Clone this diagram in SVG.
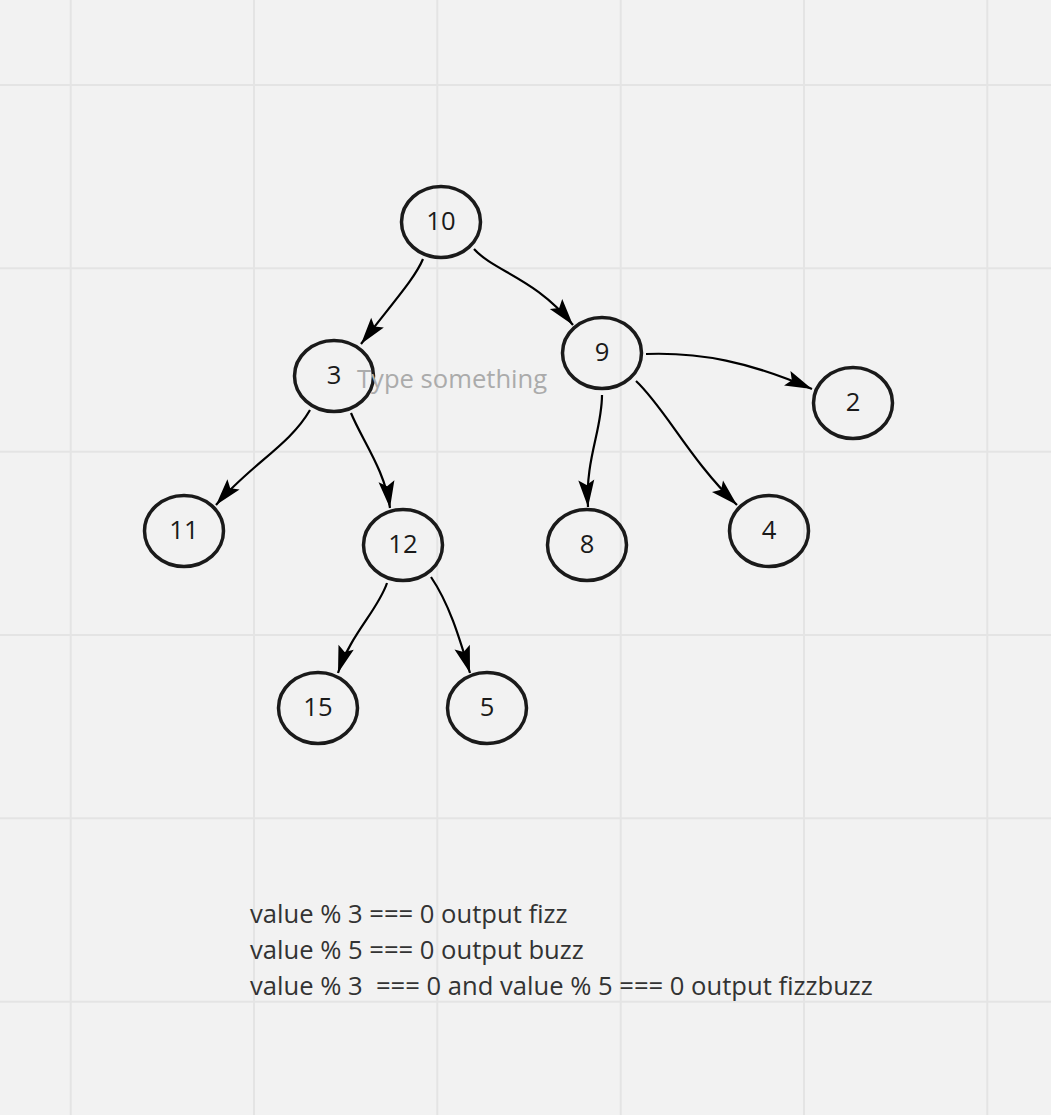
<svg xmlns="http://www.w3.org/2000/svg" width="1051" height="1115" viewBox="0 0 1051 1115">
<style>
.grid line{stroke:#e4e4e4;stroke-width:2}
.node ellipse{fill:none;stroke:#1a1a1a;stroke-width:3.5}
.node text{font-family:"Open Sans","DejaVu Sans",sans-serif;font-size:25.6px;fill:#1a1a1a;text-anchor:middle}
.edge{fill:none;stroke:#000;stroke-width:2.2;marker-end:url(#arr)}
.note{font-family:"Open Sans","DejaVu Sans",sans-serif;font-size:25.6px;fill:#333;white-space:pre}
</style>
<defs>
<marker id="arr" markerUnits="userSpaceOnUse" markerWidth="30" markerHeight="20" viewBox="-28 -10 30 20" refX="0" refY="0" orient="auto">
<path d="M0,0 L-27,-8 L-22,0 L-27,8 Z" fill="#000"/>
</marker>
</defs>
<rect width="1051" height="1115" fill="#f2f2f2"/>
<g class="grid">
<line x1="70.7" y1="0" x2="70.7" y2="1115"/>
<line x1="254" y1="0" x2="254" y2="1115"/>
<line x1="437.3" y1="0" x2="437.3" y2="1115"/>
<line x1="620.7" y1="0" x2="620.7" y2="1115"/>
<line x1="804" y1="0" x2="804" y2="1115"/>
<line x1="987.3" y1="0" x2="987.3" y2="1115"/>
<line x1="0" y1="85" x2="1051" y2="85"/>
<line x1="0" y1="268.3" x2="1051" y2="268.3"/>
<line x1="0" y1="451.7" x2="1051" y2="451.7"/>
<line x1="0" y1="635" x2="1051" y2="635"/>
<line x1="0" y1="818.3" x2="1051" y2="818.3"/>
<line x1="0" y1="1001.7" x2="1051" y2="1001.7"/>
</g>
<g id="connectors">
<path class="edge" d="M423,259 C415,278 395,300 361,344"/>
<path class="edge" d="M474,249 C495,272 535,278 573,325"/>
<path class="edge" d="M646,354 C700,352 750,362 812,389"/>
<path class="edge" d="M602,395 C602,430 585,460 588,507"/>
<path class="edge" d="M636,381 C665,408 690,460 737,505"/>
<path class="edge" d="M310,410 C290,445 250,465 216,505"/>
<path class="edge" d="M351,413 C362,440 385,470 390,508"/>
<path class="edge" d="M387,583 C378,610 350,635 338,673"/>
<path class="edge" d="M431,577 C450,605 460,640 470,673"/>
</g>
<g id="n10" class="node"><ellipse cx="441" cy="222" rx="39.5" ry="35.5"/><text x="441" y="229.5">10</text></g>
<g id="n3" class="node"><ellipse cx="334" cy="376" rx="39.5" ry="35.5"/><text x="334" y="383.5">3</text></g>
<g id="n9" class="node"><ellipse cx="602" cy="353" rx="39.5" ry="35.5"/><text x="602" y="360.5">9</text></g>
<g id="n2" class="node"><ellipse cx="853" cy="403" rx="39.5" ry="35.5"/><text x="853" y="410.5">2</text></g>
<g id="n11" class="node"><ellipse cx="184" cy="531" rx="39.5" ry="35.5"/><text x="184" y="538.5">11</text></g>
<g id="n12" class="node"><ellipse cx="403" cy="545" rx="39.5" ry="35.5"/><text x="403" y="552.5">12</text></g>
<g id="n8" class="node"><ellipse cx="587" cy="545" rx="39.5" ry="35.5"/><text x="587" y="552.5">8</text></g>
<g id="n4" class="node"><ellipse cx="769" cy="531" rx="39.5" ry="35.5"/><text x="769" y="538.5">4</text></g>
<g id="n15" class="node"><ellipse cx="318" cy="708" rx="39.5" ry="35.5"/><text x="318" y="715.5">15</text></g>
<g id="n5" class="node"><ellipse cx="487" cy="708" rx="39.5" ry="35.5"/><text x="487" y="715.5">5</text></g>
<text x="357" y="388" font-family="Open Sans, DejaVu Sans, sans-serif" font-size="25.6" fill="#ababab">Type something</text>
<g id="notes">
<text class="note" x="250" y="923">value % 3 === 0 output fizz</text>
<text class="note" x="250" y="959">value % 5 === 0 output buzz</text>
<text class="note" x="250" y="995" xml:space="preserve">value % 3  === 0 and value % 5 === 0 output fizzbuzz</text>
</g>
</svg>
